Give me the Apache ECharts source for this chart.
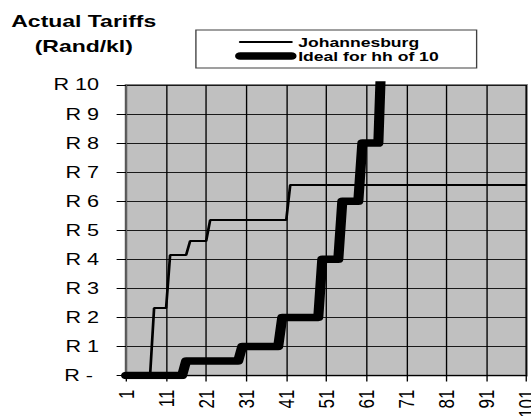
<!DOCTYPE html>
<html>
<head>
<meta charset="utf-8">
<script src="https://cdn.jsdelivr.net/npm/echarts@6/dist/echarts.min.js"></script>
<style>
  html, body { margin: 0; padding: 0; background: #fff; overflow: hidden; }
  /* the original picture is stretched sideways, so the chart is drawn narrow and widened */
  #chart { width: 393px; height: 419px; transform: scaleX(1.3511); transform-origin: 0 0; }
</style>
</head>
<body>
<div id="chart"></div>
<script>
// household consumption (kl), 1..101
const categories = Array.from({ length: 101 }, (v, i) => String(i + 1));

// step corners
const jhbX = [1, 7, 8, 11, 12, 16, 17, 21, 22, 41, 42, 101];
const jhbY = [0, 0, 2.32, 2.32, 4.15, 4.15, 4.63, 4.63, 5.35, 5.35, 6.56, 6.56];

const idealX = [1, 15, 16, 29, 30, 39, 40, 49, 50, 54, 55, 59, 60, 64, 65];
const idealY = [0, 0, 0.5, 0.5, 1, 1, 2, 2, 4, 4, 6, 6, 8, 8, 12];

const seriesNames = ['Johannesburg', 'Ideal for hh of 10'];
const lineWidths = [2, 7.5];

const font = '"Liberation Sans", Arial, sans-serif';

function pairs(xs, ys) {
    return xs.map((x, i) => [String(x), ys[i]]);
}

var myChart = echarts.init(document.getElementById('chart'), null, { renderer: 'svg' });
let option = {
    animation: false,
    title: {
        text: 'Actual Tariffs\n(Rand/kl)',
        left: 62,
        top: 9,
        padding: 0,
        textAlign: 'center',
        textStyle: {
            fontFamily: font,
            fontSize: 17,
            fontWeight: 'bold',
            color: '#000',
            lineHeight: 25
        }
    },
    legend: {
        data: seriesNames.map((name, i) => ({
            name: name,
            itemStyle: { color: 'transparent', borderWidth: 0 },
            lineStyle: { color: '#000', width: lineWidths[i], cap: 'round' }
        })),
        orient: 'vertical',
        left: 145,
        top: 30,
        itemWidth: 38,
        itemHeight: 14,
        itemGap: -8,
        padding: [1, 28, 1, 29],
        borderColor: '#404040',
        borderWidth: 1,
        backgroundColor: '#fff',
        selectedMode: false,
        textStyle: {
            fontFamily: font,
            fontSize: 13,
            fontWeight: 'bold',
            color: '#000',
            lineHeight: 14,
            padding: [8, 0, 0, 0]
        }
    },
    grid: {
        left: 93.3,
        right: 3.3,
        top: 85,
        bottom: 43.5,
        containLabel: false,
        outerBoundsMode: 'none',
        show: true,
        backgroundColor: '#c0c0c0',
        borderColor: '#808080',
        borderWidth: 2
    },
    xAxis: {
        type: 'category',
        boundaryGap: false,
        data: categories,
        axisLine: { lineStyle: { color: '#000', width: 1 } },
        axisTick: { show: true, interval: 9, length: 6, lineStyle: { color: '#000' } },
        axisLabel: {
            interval: 9,
            rotate: 90,
            margin: 14,
            color: '#000',
            fontFamily: font,
            fontSize: 17
        },
        splitLine: { show: true, interval: 9, lineStyle: { color: '#000', width: 1 } }
    },
    yAxis: {
        type: 'value',
        min: 0,
        max: 10,
        interval: 1,
        axisLine: { show: true, lineStyle: { color: '#606060', width: 1 } },
        axisTick: { show: true, length: 7, lineStyle: { color: '#000' } },
        axisLabel: {
            margin: 20,
            color: '#000',
            fontFamily: font,
            fontSize: 16,
            formatter: function (v) { return v === 0 ? 'R - ' : 'R ' + v; }
        },
        splitLine: { show: true, lineStyle: { color: '#1a1a1a', width: 1 } }
    },
    series: [
        {
            name: seriesNames[0],
            type: 'line',
            data: pairs(jhbX, jhbY),
            symbol: 'none',
            lineStyle: { color: '#000', width: lineWidths[0] },
            itemStyle: { color: '#000' }
        },
        {
            name: seriesNames[1],
            type: 'line',
            data: pairs(idealX, idealY),
            symbol: 'none',
            lineStyle: { color: '#000', width: lineWidths[1], cap: 'round', join: 'round' },
            itemStyle: { color: '#000' }
        }
    ]
};
myChart.setOption(option);
</script>
</body>
</html>
